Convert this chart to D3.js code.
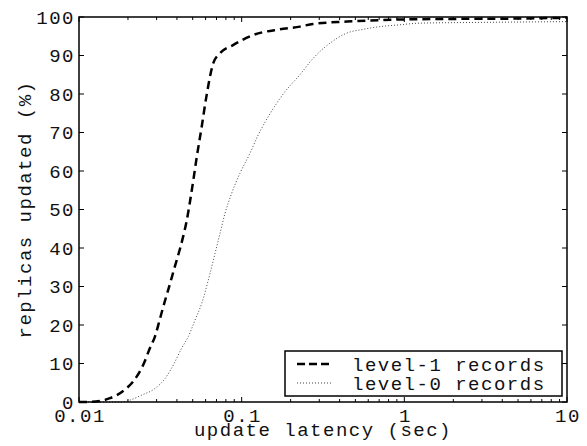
<!DOCTYPE html>
<html>
<head>
<meta charset="utf-8">
<script src="https://cdn.jsdelivr.net/npm/d3@7"></script>
<style>
  body { margin: 0; background: #fff; }
  text { font-family: "Liberation Mono", "Courier New", monospace; font-size: 19px; letter-spacing: 1.5px; fill: #111; }
</style>
</head>
<body>
<div id="chart"></div>
<script>
// datos: latencia (s) y porcentaje acumulado
var level1Latency = [0.01, 0.0113, 0.0140, 0.0155, 0.0171, 0.0195, 0.0215, 0.0248, 0.0273, 0.0293, 0.0315, 0.033, 0.0346, 0.0363, 0.038, 0.0434, 0.0459, 0.0481, 0.0504, 0.0529, 0.0568, 0.0605, 0.0669, 0.0736, 0.0885, 0.1174, 0.172, 0.228, 0.2745, 0.444, 0.708, 1.13, 2.0, 5.0, 10];
var level1Pct = [0, 0, 0.4, 1.0, 1.8, 3.5, 5.3, 9.6, 14, 17, 21.7, 24.8, 27.8, 30.8, 33.8, 42.5, 47, 52, 57.5, 63.5, 71.5, 79, 88, 90.6, 92.7, 95.3, 96.8, 97.5, 98.2, 98.8, 99.2, 99.4, 99.5, 99.6, 99.8];

var level0Latency = [0.01, 0.018, 0.0206, 0.0243, 0.0293, 0.0338, 0.038, 0.0428, 0.047, 0.0517, 0.0568, 0.0639, 0.0686, 0.0736, 0.079, 0.0868, 0.0976, 0.1125, 0.1265, 0.150, 0.180, 0.228, 0.2757, 0.349, 0.442, 0.56, 0.708, 0.898, 1.25, 3, 10];
var level0Pct = [0, 0, 0.5, 1.8, 3.5, 6.1, 9.6, 14, 17, 21.3, 25.6, 33.4, 38.6, 43.8, 49, 54.2, 59.4, 64.6, 69.4, 75, 80, 85, 89.3, 93.2, 95.8, 96.8, 97.5, 97.9, 98.4, 98.6, 98.8];

var xTicks = [0.01, 0.1, 1, 10];
var xTickLabels = ["0.01", "0.1", "1", "10"];
var yTicks = [0, 10, 20, 30, 40, 50, 60, 70, 80, 90, 100];
var seriesNames = ["level-1 records", "level-0 records"];

var margin = { top: 17, right: 20, bottom: 44, left: 79 },
    width = 587 - margin.left - margin.right,
    height = 446 - margin.top - margin.bottom;

var svg = d3.select("#chart").append("svg")
    .attr("width", 587)
    .attr("height", 446)
  .append("g")
    .attr("transform", "translate(" + margin.left + "," + margin.top + ")");

var x = d3.scaleLog().domain([0.01, 10]).range([0, width]);
var y = d3.scaleLinear().domain([0, 100]).range([height, 0]);

// ticks menores de la escala log
var minorTicks = [];
[0.01, 0.1, 1].forEach(function (d) {
    for (var k = 2; k <= 9; k++) minorTicks.push(d * k);
});

function drawXTicks(yPos, dir) {
    svg.selectAll(null).data(minorTicks).enter().append("line")
        .attr("x1", function (d) { return x(d); })
        .attr("x2", function (d) { return x(d); })
        .attr("y1", yPos).attr("y2", yPos + dir * 3)
        .attr("stroke", "#000").attr("stroke-width", 1);
    svg.selectAll(null).data(xTicks).enter().append("line")
        .attr("x1", function (d) { return x(d); })
        .attr("x2", function (d) { return x(d); })
        .attr("y1", yPos).attr("y2", yPos + dir * 5)
        .attr("stroke", "#000").attr("stroke-width", 1);
}
drawXTicks(height, -1);
drawXTicks(0, 1);

// ticks en y (izquierda y derecha, hacia adentro)
[0, width].forEach(function (xPos) {
    var dir = xPos === 0 ? 1 : -1;
    svg.selectAll(null).data(yTicks).enter().append("line")
        .attr("x1", xPos).attr("x2", xPos + dir * 5)
        .attr("y1", function (d) { return y(d); })
        .attr("y2", function (d) { return y(d); })
        .attr("stroke", "#000").attr("stroke-width", 1);
});

// etiquetas de los ejes
svg.selectAll(".ylab").data(yTicks).enter().append("text")
    .attr("class", "ylab")
    .attr("x", -4)
    .attr("y", function (d) { return y(d); })
    .attr("dy", "0.35em")
    .style("text-anchor", "end")
    .text(function (d) { return d; });

svg.selectAll(".xlab").data(xTicks).enter().append("text")
    .attr("class", "xlab")
    .attr("x", function (d) { return x(d) + 1; })
    .attr("y", height + 20)
    .style("text-anchor", "middle")
    .text(function (d, i) { return xTickLabels[i]; });

svg.append("text")
    .attr("x", width / 2)
    .attr("y", height + 34)
    .style("text-anchor", "middle")
    .text("update latency (sec)");

svg.append("text")
    .attr("transform", "translate(" + (31 - margin.left) + "," + (height / 2) + ") rotate(-90)")
    .style("text-anchor", "middle")
    .text("replicas updated (%)");

// lineas
var line = d3.line()
    .x(function (d) { return x(d[0]); })
    .y(function (d) { return y(d[1]); })
    .curve(d3.curveMonotoneX);

var level1 = level1Latency.map(function (d, i) { return [d, level1Pct[i]]; });
var level0 = level0Latency.map(function (d, i) { return [d, level0Pct[i]]; });

svg.append("path")
    .datum(level0)
    .attr("d", line)
    .attr("fill", "none")
    .attr("stroke", "#444")
    .attr("stroke-width", 1)
    .attr("stroke-dasharray", "1,2");

svg.append("path")
    .datum(level1)
    .attr("d", line)
    .attr("fill", "none")
    .attr("stroke", "#000")
    .attr("stroke-width", 2.5)
    .attr("stroke-dasharray", "8,5");

// marco
svg.append("rect")
    .attr("width", width).attr("height", height)
    .attr("fill", "none").attr("stroke", "#000").attr("stroke-width", 1.5);

// leyenda
var legend = svg.append("g")
    .attr("transform", "translate(" + (285 - margin.left) + "," + (351 - margin.top) + ")");

legend.append("rect")
    .attr("width", 277).attr("height", 45)
    .attr("fill", "#fff").attr("stroke", "#000").attr("stroke-width", 1.5);

var styles = [
    { stroke: "#000", width: 2.5, dash: "8,4" },
    { stroke: "#444", width: 1, dash: "1,2" }
];

var item = legend.selectAll(".item").data(seriesNames).enter().append("g")
    .attr("class", "item")
    .attr("transform", function (d, i) { return "translate(0," + (13 + i * 19) + ")"; });

item.append("line")
    .attr("x1", 12).attr("x2", 48)
    .attr("stroke", function (d, i) { return styles[i].stroke; })
    .attr("stroke-width", function (d, i) { return styles[i].width; })
    .attr("stroke-dasharray", function (d, i) { return styles[i].dash; });

item.append("text")
    .attr("x", 67)
    .attr("dy", "0.35em")
    .text(function (d) { return d; });
</script>
</body>
</html>
